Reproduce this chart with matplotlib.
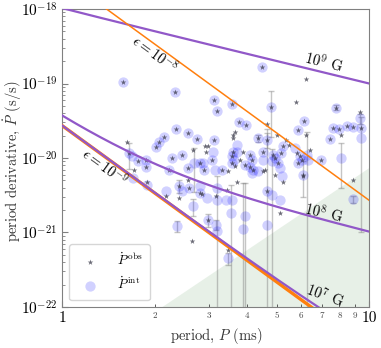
import numpy as np
import matplotlib
matplotlib.use("Agg")
import matplotlib.pyplot as plt
from matplotlib.ticker import FuncFormatter, LogLocator, NullFormatter

plt.rcParams['font.family'] = 'serif'
plt.rcParams['font.serif'] = ['cmr10', 'DejaVu Serif']
plt.rcParams['mathtext.fontset'] = 'cm'
plt.rcParams['axes.unicode_minus'] = False
plt.rcParams['axes.formatter.use_mathtext'] = True

nan = np.nan

# pulsars: period (ms), observed / intrinsic period derivative (1e-20 s/s), error on intrinsic
period = [1.57, 4.47, 6.22, 2.32, 5.77, 3.11, 3.20, 3.58, 4.78, 7.78,
          9.33, 6.12, 3.76, 3.98, 2.35, 4.65, 2.57, 2.75, 2.14, 2.06,
          2.02, 3.13, 4.34, 7.44, 7.60, 7.98, 8.48, 8.87, 9.40, 8.09,
          5.87, 9.40, 8.09, 6.20, 6.25, 6.41, 6.94, 5.94, 6.03, 6.33,
          5.87, 6.09, 1.62, 1.65, 1.69, 1.76, 1.87, 1.87, 1.71, 1.70,
          1.89, 1.89, 2.28, 2.45, 2.67, 2.69, 2.57, 2.22, 2.92, 2.94,
          2.88, 2.89, 3.07, 3.10, 2.81, 3.14, 3.30, 3.61, 3.66, 3.61,
          3.72, 3.72, 3.61, 3.57, 3.63, 3.58, 3.65, 3.79, 3.89, 3.94,
          4.09, 4.14, 4.09, 4.19, 4.14, 4.34, 4.52, 4.50, 4.57, 4.66,
          4.99, 4.87, 4.93, 4.81, 5.05, 5.12, 5.18, 5.35, 5.25, 5.16,
          5.48, 5.71, 5.80, 3.47, 2.17, 2.17, 2.40, 2.45, 2.39, 2.57,
          2.59, 2.81, 2.80, 2.84, 2.95, 3.18, 3.17, 3.18, 3.43, 3.41,
          3.55, 3.56, 2.66, 2.99, 2.36, 2.64, 3.17, 3.18, 3.47, 3.47,
          4.63, 4.81, 5.12, 5.12, 3.94, 3.87, 4.63, 8.87, 8.87, 5.25,
          4.93, 6.09, 4.52, 3.70, 2.98]
pdot_obs = [10.6, 16.5, 11.4, 7.6, 5.7, 6.0, 4.3, 5.3, 4.9, 4.75,
            4.1, 3.15, 3.0, 2.8, 2.45, 2.9, 2.15, 1.8, 1.9, 1.63,
            1.41, 1.75, 1.86, 1.79, 2.5, 2.44, 2.7, 2.64, 2.5, 2.05,
            2.39, nan, nan, 2.05, nan, 1.29, 0.945, 1.05, 0.945, nan,
            0.85, 0.6, 1.66, 1.16, nan, 0.91, 0.945, 0.75, 0.69, nan,
            0.48, nan, 1.0, 1.1, 1.29, nan, 0.73, 0.68, 1.43, 1.22,
            nan, 0.69, 0.945, nan, 0.85, nan, 0.69, 2.05, 2.25, 1.85,
            nan, nan, 1.22, 1.05, nan, 0.85, 0.77, 0.945, 1.22, 0.81,
            1.1, 0.945, 0.75, 0.69, nan, nan, 1.22, nan, 0.69, 1.75,
            2.05, 1.1, 1.0, nan, 0.85, nan, nan, 1.72, 1.43, 1.16,
            1.51, nan, 1.16, 0.66, nan, 0.305, 0.42, nan, 0.29, 0.5,
            0.394, nan, 0.338, 0.33, nan, nan, 0.305, nan, 0.374, nan,
            nan, nan, nan, 0.148, nan, 0.076, nan, nan, 0.059, nan,
            0.356, nan, nan, 0.182, nan, nan, nan, nan, 0.5, 0.48,
            0.59, 0.58, 0.66, 0.48, 1.43]
pdot_int = [10.6, 16.5, nan, 7.6, nan, 6.0, 4.3, 5.3, 4.9, 4.75,
            3.4, 3.15, 3.0, 2.8, 2.45, nan, 2.15, 1.8, 1.9, 1.63,
            1.41, 1.75, 1.86, 1.79, 2.5, 2.44, 2.7, 2.64, 2.5, nan,
            2.39, 1.85, 1.0, nan, 1.1, nan, 0.945, 1.05, 0.945, 0.945,
            0.85, 0.6, nan, 1.16, 1.07, 0.91, 0.945, 0.75, nan, 0.54,
            nan, 0.43, 1.0, 1.1, nan, 0.85, 0.73, 0.68, nan, nan,
            0.85, 0.69, 0.945, 1.22, 0.85, 0.69, 0.69, nan, nan, nan,
            1.5, 1.22, 1.22, 1.05, 0.945, 0.85, nan, nan, nan, 0.81,
            1.1, 0.945, 0.75, 0.69, 0.63, 0.66, 1.22, 0.945, nan, 1.75,
            nan, 1.1, 1.0, 0.9, 0.85, 0.73, 0.565, nan, 1.43, 1.16,
            nan, 1.36, nan, nan, 0.36, nan, 0.42, 0.356, nan, nan,
            0.394, 0.42, 0.338, nan, 0.29, 0.40, nan, 0.275, nan, 0.275,
            0.182, 0.275, 0.224, 0.148, 0.121, nan, 0.127, 0.105, nan, 0.045,
            0.356, 0.32, 0.275, nan, 0.164, 0.112, 0.127, 0.28, nan, nan,
            nan, nan, nan, nan, nan]
pdot_err = [0, 0, 0, 0, 0, 0, 0, 0, 3.0, 0.4,
            0.5, 0, 0, 0, 0, 0, 0, 0, 0, 0,
            0, 0, 0.2, 0, 0, 0, 0, 0, 0, 0,
            0, 1.75, 0.6, 0, 1.1, 0, 0, 0, 0, 0,
            0, 0.3, 0, 0.45, 0, 0, 0, 0, 0, 0,
            0, 0, 0, 0, 0, 0.5, 0, 0, 0, 0,
            0, 0, 0, 0, 0, 0, 0, 0, 0, 0,
            0, 0, 0, 0, 0, 0, 0, 0, 0, 0,
            0, 0, 0, 0, 0, 0, 0, 0, 0, 0.4,
            0, 0, 0, 0, 0, 0, 0, 0, 0, 0,
            0, 0, 0, 0, 0, 0, 0.08, 0, 0, 0,
            0, 0, 0, 0, 0, 0, 0, 0.3, 0, 0,
            0.25, 0, 0.06, 0.03, 0.02, 0, 0.02, 0, 0, 0.008,
            0, 1.0, 0, 0, 0.3, 0.35, 2.3, 0.03, 0, 0,
            0, 0, 0, 0, 0]

P = np.array(period)
obs = np.array(pdot_obs) * 1e-20
intr = np.array(pdot_int) * 1e-20
err = np.array(pdot_err) * 1e-20

# model lines: B-field spin-down (+ eps=1e-9 GW term) and GW-only lines
B_fields = [1e9, 1e8, 1e7]
B_labels = ['$10^9$ G', '$10^8$ G', '$10^7$ G']
eps_values = [1e-8, 1e-9]
pdot_B9_1ms = 1e-18     # B = 1e9 G at P = 1 ms
pdot_eps9_1ms = 2.7e-20  # eps = 1e-9 at P = 1 ms

# shaded region corners
shade_P = [2.1, 10]
shade_pdot = [1e-22, 7.5e-21]

purple = '#9158c8'
orange = '#ff7f0e'

fig = plt.figure(figsize=(3.81, 3.48), dpi=100)
ax = fig.add_axes([0.164, 0.118, 0.805, 0.856])
ax.set_xscale('log')
ax.set_yscale('log')

ax.fill_between(shade_P, shade_pdot, [1e-22, 1e-22], color='#5a9a5a', alpha=0.14,
                linewidth=0, zorder=0)

pp = np.logspace(0, 1, 300)
for B in B_fields:
    ax.plot(pp, pdot_B9_1ms * (B / 1e9)**2 / pp + pdot_eps9_1ms / pp**3,
            color=purple, lw=1.6, zorder=3)
ax.plot(pp, pdot_eps9_1ms * (eps_values[0] / 1e-9)**2 / pp**3, color=orange, lw=1.1, zorder=3)
ax.plot(pp, pdot_eps9_1ms * (eps_values[1] / 1e-9)**2 / pp**3, color=orange, lw=2.4, zorder=2.9)

m = ~np.isnan(intr) & (err > 0)
ax.errorbar(P[m], intr[m], yerr=err[m], fmt='none', ecolor='gray', alpha=0.45,
            elinewidth=1, capsize=2, zorder=1)
ax.scatter(P, intr, s=55, color='blue', alpha=0.18, linewidths=0, zorder=2,
           label=r'$\dot{P}^{\,\mathrm{int}}$')
ax.scatter(P, obs, s=18, marker='*', color='#3a3a4a', alpha=0.75, linewidths=0, zorder=2.5,
           label=r'$\dot{P}^{\,\mathrm{obs}}$')

fs = 10.5
ax.text(7.1, 1.95e-19, B_labels[0], rotation=-14, fontsize=fs, ha='center', va='center')
ax.text(7.1, 1.85e-21, B_labels[1], rotation=-13, fontsize=fs, ha='center', va='center')
ax.text(7.2, 1.45e-22, B_labels[2], rotation=-20, fontsize=fs, ha='center', va='center')
ax.text(2.0, 2.55e-19, r'$\epsilon = 10^{-8}$', rotation=-36, fontsize=fs, ha='center', va='center')
ax.text(1.38, 7.6e-21, r'$\epsilon = 10^{-9}$', rotation=-36, fontsize=fs, ha='center', va='center')

ax.set_xlim(1, 10)
ax.set_ylim(1e-22, 1e-18)
ax.xaxis.set_major_formatter(FuncFormatter(lambda v, pos: '%d' % round(v)))
ax.xaxis.set_minor_formatter(FuncFormatter(lambda v, pos: '%d' % round(v)))
ax.yaxis.set_minor_locator(LogLocator(base=10, subs=np.arange(2, 10), numticks=20))
ax.yaxis.set_minor_formatter(NullFormatter())
ax.tick_params(which='both', direction='in', color='gray')
ax.tick_params(which='major', labelsize=11, length=4)
ax.tick_params(which='minor', length=2)
ax.tick_params(axis='x', which='minor', labelsize=6.5, colors='#444444')
ax.tick_params(axis='x', which='major', pad=3)
for s in ax.spines.values():
    s.set_color('gray')

ax.set_xlabel(r'period, $P$ (ms)', fontsize=10.5, color='#333333', labelpad=1)
ax.set_ylabel(r'period derivative, $\dot{P}$ (s/s)', fontsize=10.5, color='#333333')
ax.yaxis.set_label_coords(-0.125, 0.49)

h, l = ax.get_legend_handles_labels()
leg = ax.legend(h[::-1], l[::-1], loc='lower left', fontsize=9.5, handletextpad=1.0,
                borderpad=0.6, labelspacing=0.6)
leg.get_frame().set_edgecolor('#cccccc')

fig.savefig('out.png', dpi=100)
